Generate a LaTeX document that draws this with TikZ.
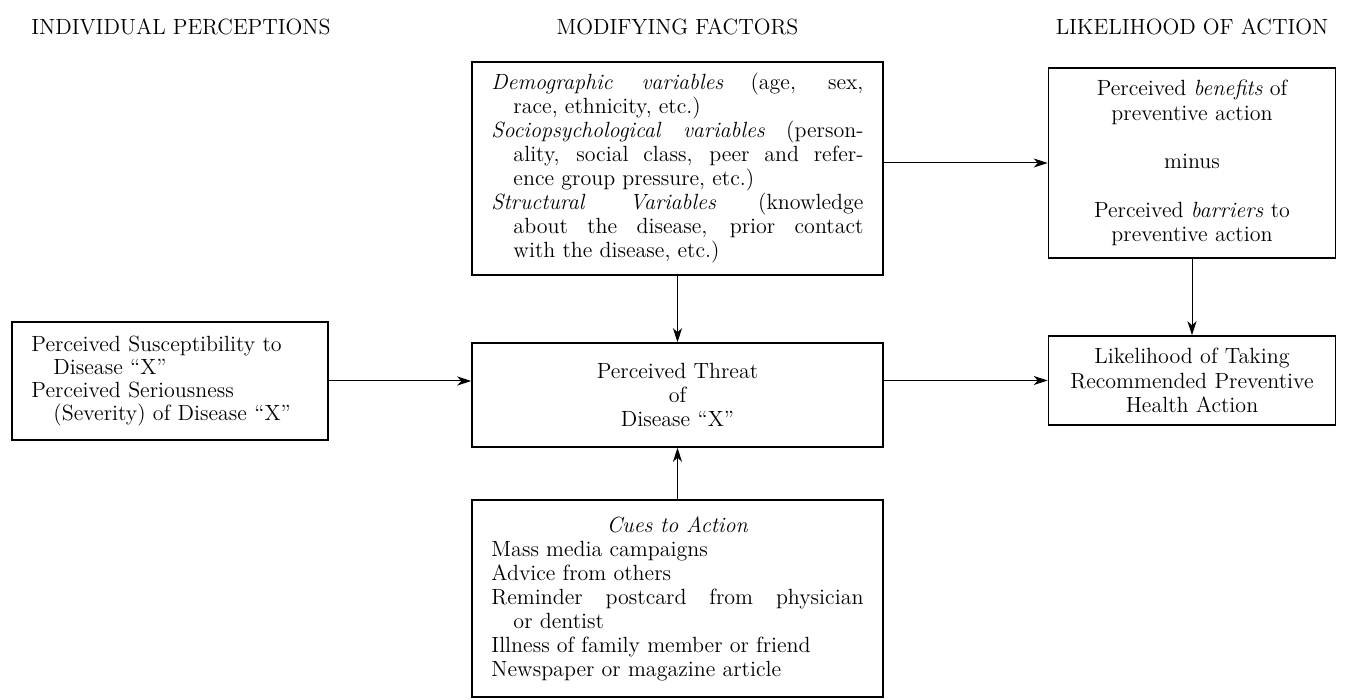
\documentclass[tikz,border=0pt]{standalone}
\usepackage{tikz}
\usetikzlibrary{arrows.meta, positioning}

\begin{document}
\begin{tikzpicture}[node distance=100pt, auto]
    % styles
    \tikzset{
        factor/.style  = {rectangle, draw, line width=0.75pt, text width=186pt, inner xsep=9.75pt, inner ysep=3pt, align=justify, font=\fontsize{11}{12}\selectfont},
        outcome/.style = {rectangle, draw, line width=0.75pt, text width=135.5pt, inner xsep=4pt, align=center, font=\fontsize{11}{12.25}\selectfont},
        percept/.style = {rectangle, draw, line width=0.75pt, text width=138.5pt, inner xsep=9.75pt, align=left, font=\fontsize{11}{11.5}\selectfont},
        heading/.style = {font=\fontsize{11}{12}\selectfont},
        line/.style    = {draw, line width=0.5pt, -{Stealth[length=7pt, width=4.5pt, inset=2pt]}}
    }

    % centre column
    \node [factor, align=center, minimum height=52pt] (threat) {Perceived Threat\\of\\Disease ``X''};
    \node [factor, above of=threat, yshift=13.25pt, minimum height=106.5pt] (modif) {%
        \hangindent=11pt\hangafter=1 \emph{Demographic variables} (age, sex,\linebreak race, ethnicity, etc.)\par
        \hangindent=11pt\hangafter=1 \emph{Sociopsychological variables} (person-\linebreak ality, social class, peer and refer-\linebreak ence group pressure, etc.)\par
        \hangindent=11pt\hangafter=1 \emph{Structural Variables} (knowledge\linebreak about the disease, prior contact\linebreak with the disease, etc.)\par};
    \node [factor, below of=threat, yshift=-1.75pt, minimum height=98.5pt] (cues) {%
        \centerline{\emph{Cues to Action}}
        Mass media campaigns\par
        Advice from others\par
        \hangindent=11pt\hangafter=1 Reminder postcard from physician\linebreak or dentist\par
        Illness of family member or friend\par
        Newspaper or magazine article\par};

    % left column
    \node [percept, left of=threat, xshift=-153.75pt, yshift=7pt, minimum height=59pt] (percept) {Perceived Susceptibility to\\\hspace*{11pt}Disease ``X''\\Perceived Seriousness\\\hspace*{11pt}(Severity) of Disease ``X''};

    % right column
    \node [outcome, right of=threat, xshift=157.25pt, yshift=7.25pt, minimum height=44.5pt] (likely) {Likelihood of Taking\\Recommended Preventive\\Health Action};
    \node [outcome, above of=likely, yshift=8.75pt, minimum height=95pt] (benefits) {Perceived \emph{benefits} of\\preventive action\\[12pt]minus\\[12pt]Perceived \emph{barriers} to\\preventive action};

    % headings
    \node [heading, above of=percept, yshift=77pt, xshift=5.5pt] (hindiv) {INDIVIDUAL PERCEPTIONS};
    \node [heading, above of=modif, yshift=-29.25pt] (hmodif) {MODIFYING FACTORS};
    \node [heading, above of=benefits, yshift=-32pt] (hlikely) {LIKELIHOOD OF ACTION};

    % connections
    \path [line] (percept.east) -- (percept.east -| threat.west);
    \path [line] (threat.east |- likely.west) -- (likely.west);
    \path [line] (modif) -- (threat);
    \path [line] (cues) -- (threat);
    \path [line] (modif.east |- benefits.west) -- (benefits.west);
    \path [line] (benefits) -- (likely);

    \useasboundingbox (-338.75pt,197.5pt) rectangle (335.25pt,-152.5pt);
\end{tikzpicture}
\end{document}
